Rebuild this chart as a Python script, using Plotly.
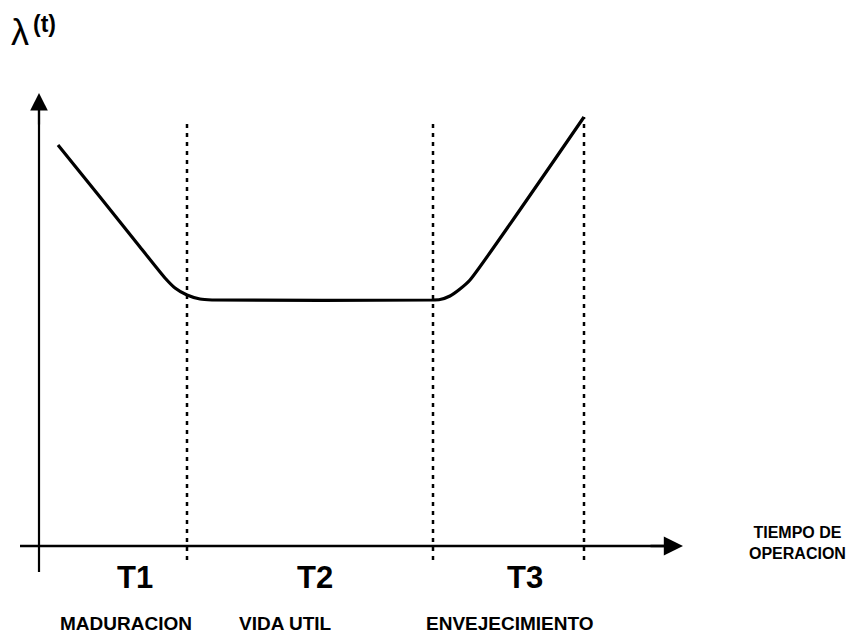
import plotly.graph_objects as go

# Bathtub curve data (time, failure rate)
t_vals = [1.9, 6.1, 10.1, 12.6, 13.6, 14.8, 16.1, 17.3, 39.3, 40.1, 41.1, 42.1, 43.1, 54.5]
lam_vals = [40.1, 34.9, 29.9, 26.8, 25.8, 25.1, 24.7, 24.6, 24.6, 24.65, 25.0, 25.7, 26.6, 42.9]

# Period boundaries
boundaries = [14.8, 39.4, 54.5]
boundary_tops = [42.6, 42.4, 42.9]

period_labels = ["T1", "T2", "T3"]
period_x = [9.6, 27.6, 48.6]
phase_labels = ["MADURACION", "VIDA UTIL", "ENVEJECIMIENTO"]
phase_x = [8.7, 24.6, 47.1]

FONT = "Liberation Sans, Arial, sans-serif"

fig = go.Figure()
fig.add_trace(go.Scatter(x=t_vals, y=lam_vals, mode="lines",
                         line=dict(color="black", width=3.2, shape="spline", smoothing=0.5),
                         hoverinfo="skip"))

shapes = []
for b, top in zip(boundaries, boundary_tops):
    shapes.append(dict(type="line", xref="x", yref="y", x0=b, x1=b, y0=-1.4, y1=top,
                       line=dict(color="black", width=2.5, dash="4px,5px")))
# axes
shapes.append(dict(type="line", xref="x", yref="y", x0=0, x1=0, y0=-2.6, y1=44.0,
                   line=dict(color="black", width=2.2)))
shapes.append(dict(type="line", xref="x", yref="y", x0=-1.9, x1=63.0, y0=0, y1=0,
                   line=dict(color="black", width=2.6)))

annotations = [
    dict(x=0, y=45.3, ax=0, ay=42.0, xref="x", yref="y", axref="x", ayref="y",
         showarrow=True, arrowhead=2, arrowsize=1.6, arrowwidth=2.2, arrowcolor="black", text=""),
    dict(x=64.4, y=0, ax=61.0, ay=0, xref="x", yref="y", axref="x", ayref="y",
         showarrow=True, arrowhead=2, arrowsize=1.6, arrowwidth=2.4, arrowcolor="black", text=""),
    dict(x=-3.0, y=51.4, xref="x", yref="y", xanchor="left", yanchor="middle", showarrow=False,
         text="λ", font=dict(family=FONT, size=36, color="black")),
    dict(x=-0.8, y=52.2, xref="x", yref="y", xanchor="left", yanchor="middle", showarrow=False,
         text="<b>(t)</b>", font=dict(family=FONT, size=23, color="black")),
    dict(x=75.8, y=0.3, xref="x", yref="y", text="<b>TIEMPO DE<br>OPERACION</b>", showarrow=False,
         align="center", font=dict(family=FONT, size=16, color="black")),
]
for lbl, x in zip(period_labels, period_x):
    annotations.append(dict(x=x, y=-3.1, xref="x", yref="y", text="<b>" + lbl + "</b>", showarrow=False,
                            font=dict(family=FONT, size=31, color="black")))
for lbl, x in zip(phase_labels, phase_x):
    annotations.append(dict(x=x, y=-7.7, xref="x", yref="y", text="<b>" + lbl + "</b>", showarrow=False,
                            font=dict(family=FONT, size=19, color="black")))

fig.update_layout(
    width=850, height=630,
    margin=dict(l=0, r=0, t=0, b=0),
    paper_bgcolor="white", plot_bgcolor="white",
    showlegend=False,
    xaxis=dict(range=[-3.1, 81.9], visible=False, fixedrange=True),
    yaxis=dict(range=[-9.2, 53.8], visible=False, fixedrange=True),
    shapes=shapes, annotations=annotations,
)
fig.write_html("out.html")
